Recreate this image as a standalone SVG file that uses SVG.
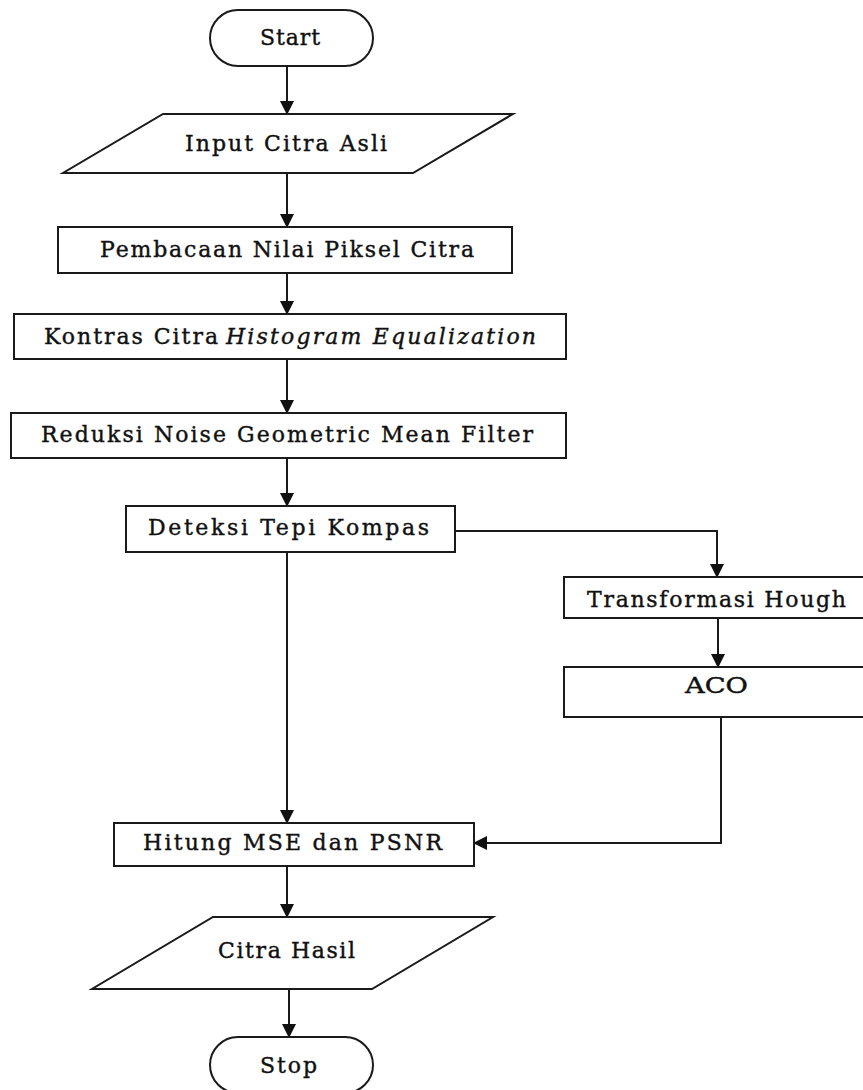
<svg xmlns="http://www.w3.org/2000/svg" width="863" height="1090" viewBox="0 0 863 1090">
<defs>
<style>
.shape{fill:#fff;stroke:#1a1a1a;stroke-width:2}
.line{fill:none;stroke:#1a1a1a;stroke-width:2}
.t{font-family:"DejaVu Serif","Liberation Serif",serif;font-size:22px;fill:#111;stroke:#111;stroke-width:0.4}
.i{font-style:italic}
</style>
<marker id="ah" markerWidth="14" markerHeight="14" refX="13" refY="7" orient="auto" markerUnits="userSpaceOnUse">
<path d="M0,0 L14,7 L0,14 Z" fill="#111"/>
</marker>
</defs>
<rect width="863" height="1090" fill="#fff"/>
<g id="connectors">
<line class="line" x1="287" y1="66" x2="287" y2="114" marker-end="url(#ah)"/>
<line class="line" x1="287" y1="173" x2="287" y2="227" marker-end="url(#ah)"/>
<line class="line" x1="287" y1="273" x2="287" y2="314" marker-end="url(#ah)"/>
<line class="line" x1="287" y1="359" x2="287" y2="413" marker-end="url(#ah)"/>
<line class="line" x1="287" y1="458" x2="287" y2="506" marker-end="url(#ah)"/>
<polyline class="line" points="455,531 717,531 717,577" marker-end="url(#ah)"/>
<line class="line" x1="718" y1="618" x2="718" y2="667" marker-end="url(#ah)"/>
<line class="line" x1="287" y1="552" x2="287" y2="823" marker-end="url(#ah)"/>
<polyline class="line" points="721,717 721,843 474,843" marker-end="url(#ah)"/>
<line class="line" x1="287" y1="866" x2="287" y2="917" marker-end="url(#ah)"/>
<line class="line" x1="289" y1="989" x2="289" y2="1037" marker-end="url(#ah)"/>
</g>
<g id="start">
<rect class="shape" x="210" y="10" width="163" height="56" rx="28" ry="28"/>
<text class="t" x="260" y="45" textLength="60" lengthAdjust="spacing">Start</text>
</g>
<g id="input">
<polygon class="shape" points="163,114 513,114 413,173 63,173"/>
<text class="t" x="185" y="151" textLength="202" lengthAdjust="spacing">Input Citra Asli</text>
</g>
<g id="pembacaan">
<rect class="shape" x="58" y="227" width="454" height="46"/>
<text class="t" x="100" y="257" textLength="374" lengthAdjust="spacing">Pembacaan Nilai Piksel Citra</text>
</g>
<g id="kontras">
<rect class="shape" x="14" y="314" width="552" height="45"/>
<text class="t" x="44" y="344" textLength="174" lengthAdjust="spacing">Kontras Citra</text>
<text class="t i" x="226" y="344" textLength="310" lengthAdjust="spacing">Histogram Equalization</text>
</g>
<g id="reduksi">
<rect class="shape" x="11" y="413" width="555" height="45"/>
<text class="t" x="41" y="442" textLength="492" lengthAdjust="spacing">Reduksi Noise Geometric Mean Filter</text>
</g>
<g id="deteksi">
<rect class="shape" x="126" y="506" width="329" height="46"/>
<text class="t" x="148" y="535" textLength="281" lengthAdjust="spacing">Deteksi Tepi Kompas</text>
</g>
<g id="transformasi">
<rect class="shape" x="564" y="577" width="310" height="41"/>
<text class="t" x="587" y="607" textLength="259" lengthAdjust="spacing">Transformasi Hough</text>
</g>
<g id="aco">
<rect class="shape" x="564" y="667" width="310" height="50"/>
<text class="t" x="685" y="693" textLength="63" lengthAdjust="spacingAndGlyphs">ACO</text>
</g>
<g id="hitung">
<rect class="shape" x="114" y="823" width="360" height="43"/>
<text class="t" x="143" y="850" textLength="299" lengthAdjust="spacing">Hitung MSE dan PSNR</text>
</g>
<g id="citrahasil">
<polygon class="shape" points="213,917 493,917 372,989 92,989"/>
<text class="t" x="218" y="958" textLength="137" lengthAdjust="spacing">Citra Hasil</text>
</g>
<g id="stop">
<rect class="shape" x="210" y="1037" width="163" height="56" rx="28" ry="28"/>
<text class="t" x="260" y="1073" textLength="57" lengthAdjust="spacing">Stop</text>
</g>
</svg>
